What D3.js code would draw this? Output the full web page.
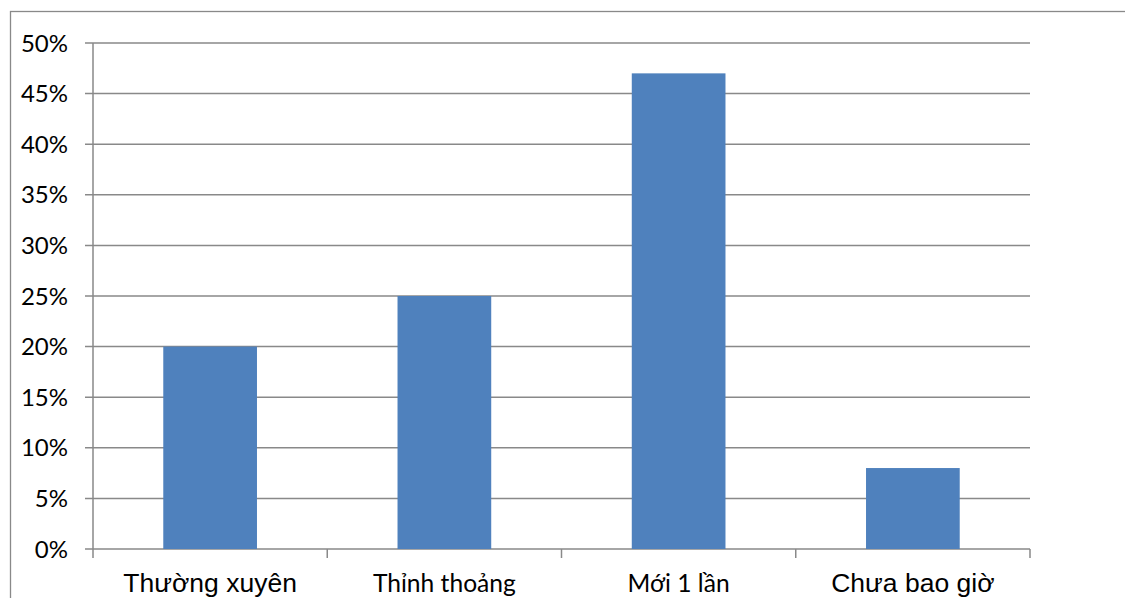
<!DOCTYPE html>
<html>
<head>
<meta charset="utf-8">
<script src="https://cdn.jsdelivr.net/npm/d3@7"></script>
<style>
  html, body { margin: 0; padding: 0; background: #fff; }
  svg { display: block; }
</style>
</head>
<body>
<script>
// Survey responses: how often respondents have done it
const categories = ["Thường xuyên", "Thỉnh thoảng", "Mới 1 lần", "Chưa bao giờ"];
const values = [0.20, 0.25, 0.47, 0.08];
const yTicks = [0, 0.05, 0.10, 0.15, 0.20, 0.25, 0.30, 0.35, 0.40, 0.45, 0.50];
// label font per category (two label styles appear on the axis)
const labelFonts = ["arial", "calibri", "calibri", "arial"];

const W = 1125, H = 598;
const plot = { left: 93, right: 1030, top: 43, bottom: 549 };
const gridColor = "#898989";

const svg = d3.select("body").append("svg")
  .attr("width", W).attr("height", H);

// chart frame
svg.append("rect")
  .attr("x", 10.5).attr("y", 11.5)
  .attr("width", 1300).attr("height", 800)
  .attr("fill", "none").attr("stroke", gridColor).attr("stroke-width", 1.3);

const x = d3.scaleBand()
  .domain(categories)
  .range([plot.left, plot.right])
  .paddingInner(0.6)
  .paddingOuter(0.3);

const y = d3.scaleLinear()
  .domain([0, 0.5])
  .range([plot.bottom, plot.top]);

// horizontal gridlines with left tick stubs
svg.append("g")
  .selectAll("line")
  .data(yTicks)
  .join("line")
  .attr("x1", plot.left - 8).attr("x2", plot.right)
  .attr("y1", d => y(d)).attr("y2", d => y(d))
  .attr("stroke", gridColor).attr("stroke-width", 1.5);

// y-axis labels
svg.append("g")
  .selectAll("text")
  .data(yTicks)
  .join("text")
  .attr("x", plot.left - 25)
  .attr("y", d => y(d))
  .attr("dy", "0.36em")
  .attr("text-anchor", "end")
  .attr("font-family", "Lato, 'Open Sans', sans-serif")
  .attr("font-size", 24)
  .attr("fill", "#000")
  .text(d => d3.format(".0%")(d));

// bars
svg.append("g")
  .selectAll("rect")
  .data(values)
  .join("rect")
  .attr("x", (d, i) => x(categories[i]))
  .attr("y", d => y(d))
  .attr("width", x.bandwidth())
  .attr("height", d => y(0) - y(d))
  .attr("fill", "#4F81BD");

// y axis line
svg.append("line")
  .attr("x1", plot.left).attr("x2", plot.left)
  .attr("y1", plot.top).attr("y2", plot.bottom)
  .attr("stroke", gridColor).attr("stroke-width", 1.5);

// x-axis category boundary ticks
const step = x.step();
const boundaries = d3.range(categories.length + 1).map(i => plot.left + i * step);
svg.append("g")
  .selectAll("line")
  .data(boundaries)
  .join("line")
  .attr("x1", d => d).attr("x2", d => d)
  .attr("y1", plot.bottom).attr("y2", plot.bottom + 9)
  .attr("stroke", gridColor).attr("stroke-width", 1.5);

// category labels
svg.append("g")
  .selectAll("text")
  .data(categories)
  .join("text")
  .attr("x", d => x(d) + x.bandwidth() / 2)
  .attr("y", 592)
  .attr("text-anchor", "middle")
  .attr("font-family", (d, i) => labelFonts[i] === "arial"
      ? "'Liberation Sans', Arial, sans-serif"
      : "Lato, 'Open Sans', sans-serif")
  .attr("font-size", (d, i) => labelFonts[i] === "arial" ? 26.5 : 24.6)
  .attr("fill", "#000")
  .text(d => d);
</script>
</body>
</html>
